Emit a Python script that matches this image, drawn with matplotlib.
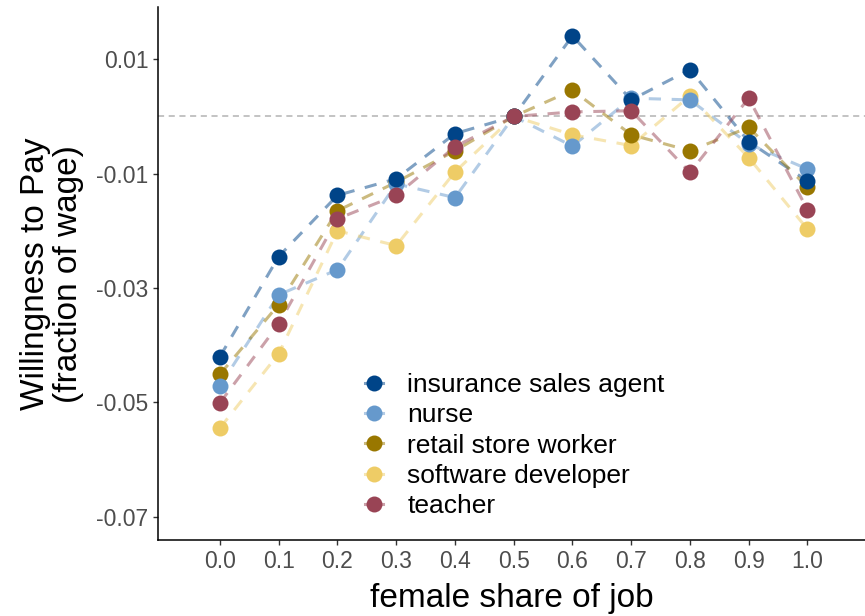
import numpy as np
import matplotlib
matplotlib.use("Agg")
import matplotlib.pyplot as plt

plt.rcParams['font.family'] = ['Liberation Sans', 'DejaVu Sans']
plt.rcParams['axes.unicode_minus'] = False

female_share = [0.0, 0.1, 0.2, 0.3, 0.4, 0.5, 0.6, 0.7, 0.8, 0.9, 1.0]

insurance = [-0.0420, -0.0245, -0.0138, -0.0109, -0.0030, 0.0, 0.0141, 0.0029, 0.0082, -0.0044, -0.0113]
nurse = [-0.0471, -0.0312, -0.0268, -0.0118, -0.0142, 0.0, -0.0052, 0.0032, 0.0029, -0.0048, -0.0092]
retail = [-0.0451, -0.0329, -0.0165, -0.0115, -0.0060, 0.0, 0.0046, -0.0032, -0.0060, -0.0019, -0.0124]
software = [-0.0545, -0.0415, -0.0200, -0.0226, -0.0097, 0.0, -0.0032, -0.0051, 0.0036, -0.0072, -0.0197]
teacher = [-0.0501, -0.0363, -0.0179, -0.0138, -0.0053, 0.0, 0.0008, 0.0010, -0.0098, 0.0032, -0.0163]

jobs = ["insurance sales agent", "nurse", "retail store worker", "software developer", "teacher"]
values = [insurance, nurse, retail, software, teacher]
colors = ["#004488", "#6699CC", "#997700", "#EECC66", "#994455"]
point_z = [4, 3, 2, 1, 5]

yticks = [0.01, -0.01, -0.03, -0.05, -0.07]
xticks = female_share

fig = plt.figure(figsize=(8.65, 6.16), dpi=100)
ax = fig.add_axes([158.3 / 865, 1 - 540 / 616, (865 - 158.3) / 865, (540 - 7.3) / 616])

ax.axhline(0, color="#B3B3B3", lw=1.1, ls=(0, (4, 3)), zorder=0)

handles = []
for job, vals, col, z in zip(jobs, values, colors, point_z):
    ax.plot(female_share, vals, color=col, lw=2.2, ls=(0, (4, 3.5)), alpha=0.5, zorder=1)
    ax.plot(female_share, vals, ls="none", marker="o", ms=11.5, color=col, mew=0, zorder=10 + z)
    # legend key: faded line stub with a solid point on top
    stub, = ax.plot([], [], color=col, lw=2.2, ls="-", alpha=0.5)
    dot, = ax.plot([], [], ls="none", marker="o", ms=11.5, mew=0, color=col)
    handles.append((stub, dot))

ax.set_xlim(-0.105, 1.098)
ax.set_ylim(-0.0741, 0.0191)
ax.set_xticks(xticks)
ax.set_xticklabels([f"{v:.1f}" for v in xticks])
ax.set_yticks(yticks)
ax.set_yticklabels([f"{v:.2f}" for v in yticks])

for s in ["top", "right"]:
    ax.spines[s].set_visible(False)
for s in ["left", "bottom"]:
    ax.spines[s].set_linewidth(1.1)
    ax.spines[s].set_color("black")

ax.tick_params(axis="both", length=3.6, width=1.0, color="#333333", labelsize=16.5,
               labelcolor="#4D4D4D", pad=3.5)

ax.set_xlabel("female share of job", fontsize=24, color="black", labelpad=7)
ax.set_ylabel("Willingness to Pay\n(fraction of wage)", fontsize=24, color="black",
              labelpad=9, linespacing=1.05)

fig.legend(handles, jobs, loc="upper left", bbox_to_anchor=(365 / 865, 1 - 373 / 616),
           frameon=False, fontsize=19, handlelength=0.7, handletextpad=0.9,
           labelspacing=0.24, borderpad=0, borderaxespad=0)

fig.savefig("out.png", dpi=100)
